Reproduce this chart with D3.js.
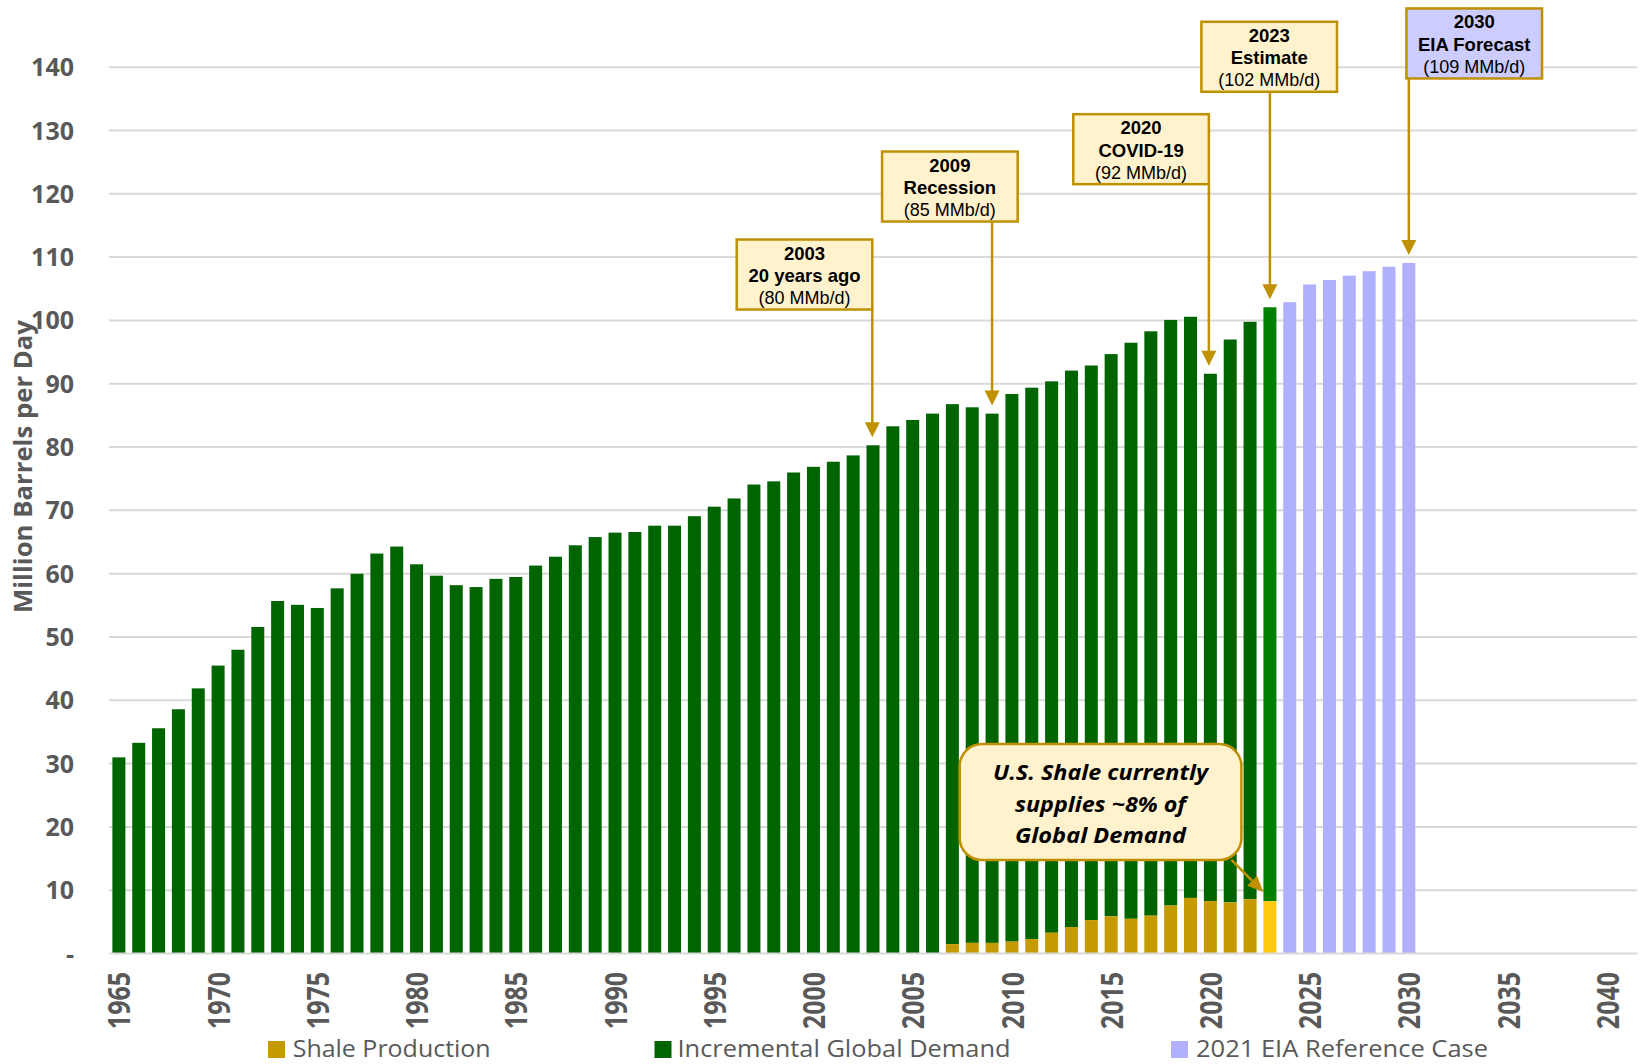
<!DOCTYPE html>
<html>
<head>
<meta charset="utf-8">
<script src="https://cdn.jsdelivr.net/npm/d3@7"></script>
<style>
  html, body { margin: 0; padding: 0; background: #ffffff; }
  svg { display: block; }
</style>
</head>
<body>
<svg id="chart" width="1642" height="1064"></svg>
<script>
// ---------------- DATA ----------------
// Categories (years on the band axis; 2041 is an unlabeled trailing slot)
const categories = ["1965","1966","1967","1968","1969","1970","1971","1972","1973","1974",
  "1975","1976","1977","1978","1979","1980","1981","1982","1983","1984",
  "1985","1986","1987","1988","1989","1990","1991","1992","1993","1994",
  "1995","1996","1997","1998","1999","2000","2001","2002","2003","2004",
  "2005","2006","2007","2008","2009","2010","2011","2012","2013","2014",
  "2015","2016","2017","2018","2019","2020","2021","2022","2023","2024",
  "2025","2026","2027","2028","2029","2030","2031","2032","2033","2034",
  "2035","2036","2037","2038","2039","2040","2041"];

const xTickLabels = ["1965","1970","1975","1980","1985","1990","1995","2000","2005",
  "2010","2015","2020","2025","2030","2035","2040"];
const yTickValues = [0,10,20,30,40,50,60,70,80,90,100,110,120,130,140];

// Total global demand (MMb/d), 1965-2023
const demandYears = categories.slice(0, 59);
const totalDemand = [30.9,33.2,35.5,38.5,41.8,45.4,47.9,51.5,55.6,55.0,
  54.5,57.6,59.9,63.1,64.2,61.4,59.6,58.1,57.8,59.1,
  59.4,61.2,62.6,64.4,65.7,66.4,66.5,67.5,67.5,69.0,
  70.5,71.8,74.0,74.5,75.9,76.8,77.6,78.6,80.2,83.2,
  84.2,85.2,86.7,86.2,85.2,88.3,89.3,90.3,92.0,92.8,
  94.6,96.4,98.2,100.0,100.5,91.5,96.9,99.7,102.0];

// U.S. shale production (MMb/d), 2007-2023
const shaleYears = ["2007","2008","2009","2010","2011","2012","2013","2014","2015",
  "2016","2017","2018","2019","2020","2021","2022","2023"];
const shaleProduction = [1.4,1.6,1.6,1.8,2.2,3.2,4.1,5.2,5.8,5.4,5.9,7.5,8.7,8.2,8.0,8.5,8.2];

// 2021 EIA reference case, 2024-2030
const eiaYears = ["2024","2025","2026","2027","2028","2029","2030"];
const eiaForecast = [102.8,105.6,106.3,107.0,107.7,108.4,109.0];

const legendLabels = ["Shale Production","Incremental Global Demand","2021 EIA Reference Case"];

const annotations = [
  {year:"2003", value:80.2, lines:["2003","20 years ago","(80 MMb/d)"], top:112.7, dx:-136.3, fill:"#FFF2CC"},
  {year:"2009", value:85.2, lines:["2009","Recession","(85 MMb/d)"], top:126.6, dx:-110, fill:"#FFF2CC"},
  {year:"2020", value:91.5, lines:["2020","COVID-19","(92 MMb/d)"], top:132.5, dx:-137.1, fill:"#FFF2CC"},
  {year:"2023", value:102.0, lines:["2023","Estimate","(102 MMb/d)"], top:147.1, dx:-68.5, fill:"#FFF2CC"},
  {year:"2030", value:109.0, lines:["2030","EIA Forecast","(109 MMb/d)"], top:149.2, dx:-2.4, fill:"#CCCCFF"}
];
const calloutLines = ["U.S. Shale currently","supplies ~8% of","Global Demand"];

// ---------------- STYLE ----------------
const C = {
  green: "#006400", green23: "#008000",
  shale: "#C49A00", shale23: "#FFC90E",
  eia: "#B0B0FF",
  grid: "#D9D9D9", text: "#595959",
  gold: "#BF9000", boxFill: "#FFF2CC"
};

const svg = d3.select("#chart");
const x = d3.scaleBand().domain(categories).range([109, 1637]).paddingInner(0.345).paddingOuter(0.17);
const y = d3.scaleLinear().domain([0, 140]).range([953, 66.7]);

// gridlines
svg.append("g")
  .attr("transform", "translate(109,0)")
  .call(d3.axisLeft(y).tickValues(yTickValues.filter(v => v > 0)).tickSize(-1528).tickFormat(""))
  .call(g => g.select(".domain").remove())
  .call(g => g.selectAll("line").attr("stroke", C.grid).attr("stroke-width", 2));

// y axis labels
svg.append("g")
  .attr("transform", "translate(109,0)")
  .call(d3.axisLeft(y).tickValues(yTickValues).tickSize(0).tickPadding(35)
    .tickFormat(v => v === 0 ? "-" : String(v)))
  .call(g => g.select(".domain").remove())
  .call(g => g.selectAll("text")
    .attr("fill", C.text)
    .style("font-family", "'Open Sans', sans-serif")
    .style("font-weight", "700")
    .style("font-size", "25px")
    .attr("dy", "0.36em"));

// y axis title
svg.append("text")
  .attr("transform", "translate(31.5,466.5) rotate(-90)")
  .attr("text-anchor", "middle")
  .attr("fill", C.text)
  .style("font-family", "'Open Sans', sans-serif")
  .style("font-weight", "700")
  .style("font-size", "25px")
  .attr("textLength", 293)
  .attr("lengthAdjust", "spacingAndGlyphs")
  .text("Million Barrels per Day");

// bars: demand split into shale + incremental
const shaleMap = new Map(shaleYears.map((yr, i) => [yr, shaleProduction[i]]));
const demandRows = demandYears.map((yr, i) => ({
  year: yr, total: totalDemand[i], shale: shaleMap.get(yr) || 0
}));

const bars = svg.append("g");
bars.selectAll("rect.inc").data(demandRows).enter().append("rect")
  .attr("class", "inc")
  .attr("x", d => x(d.year))
  .attr("width", x.bandwidth())
  .attr("y", d => y(d.total))
  .attr("height", d => y(d.shale) - y(d.total))
  .attr("fill", d => d.year === "2023" ? C.green23 : C.green);

bars.selectAll("rect.shale").data(demandRows.filter(d => d.shale > 0)).enter().append("rect")
  .attr("class", "shale")
  .attr("x", d => x(d.year))
  .attr("width", x.bandwidth())
  .attr("y", d => y(d.shale))
  .attr("height", d => y(0) - y(d.shale))
  .attr("fill", d => d.year === "2023" ? C.shale23 : C.shale);

bars.selectAll("rect.eia").data(eiaYears.map((yr, i) => ({year: yr, v: eiaForecast[i]}))).enter().append("rect")
  .attr("class", "eia")
  .attr("x", d => x(d.year))
  .attr("width", x.bandwidth())
  .attr("y", d => y(d.v))
  .attr("height", d => y(0) - y(d.v))
  .attr("fill", C.eia);

// x axis
svg.append("g")
  .attr("transform", "translate(0,953)")
  .call(d3.axisBottom(x).tickValues(xTickLabels).tickSize(0).tickSizeOuter(0))
  .call(g => g.select(".domain").attr("stroke", C.grid).attr("stroke-width", 2))
  .call(g => g.selectAll(".tick text")
    .attr("fill", C.text)
    .style("font-family", "'Open Sans', sans-serif")
    .style("font-weight", "700")
    .style("font-size", "25px")
    .attr("text-anchor", "end")
    .attr("y", 0).attr("dy", "0.36em")
    .attr("transform", "translate(1,19) rotate(-90) scale(1,1.18)"));

// annotations (boxes + leader arrows)
const ann = svg.append("g");
const BOX_W = 135.6, BOX_H = 70;
annotations.forEach(a => {
  const cx = x(a.year) + x.bandwidth() / 2;
  const bx = cx + a.dx, by = y(a.top);
  const tipY = y(a.value) - 8;
  const lineX = Math.min(Math.max(cx, bx), bx + BOX_W);
  ann.append("line")
    .attr("x1", lineX).attr("x2", lineX)
    .attr("y1", by + BOX_H).attr("y2", tipY - 14)
    .attr("stroke", C.gold).attr("stroke-width", 2.5);
  ann.append("path")
    .attr("d", `M${lineX - 7.5},${tipY - 15} L${lineX + 7.5},${tipY - 15} L${lineX},${tipY} Z`)
    .attr("fill", C.gold);
  ann.append("rect")
    .attr("x", bx).attr("y", by).attr("width", BOX_W).attr("height", BOX_H)
    .attr("fill", a.fill).attr("stroke", C.gold).attr("stroke-width", 2.5);
  const offs = [20, 42.5, 64.5];
  a.lines.forEach((t, i) => {
    ann.append("text")
      .attr("x", bx + BOX_W / 2).attr("y", by + offs[i])
      .attr("text-anchor", "middle")
      .attr("fill", "#000")
      .style("font-family", "'Liberation Sans', Arial, sans-serif")
      .style("font-weight", i < 2 ? "700" : "400")
      .style("font-size", i < 2 ? "18.5px" : "18px")
      .text(t);
  });
});

// shale callout
const x23 = x("2023");
const shale23 = shaleProduction[shaleYears.indexOf("2023")];
const cRight = x23 - 22, cLeft = cRight - 281.7;
const cTop = y(33), cBot = y(14.7);
const tip = [x23, y(shale23) - 9];
const start = [cRight - 10, cBot];
const dvx = tip[0] - start[0], dvy = tip[1] - start[1];
const len = Math.hypot(dvx, dvy), ux = dvx / len, uy = dvy / len;
const base = [tip[0] - 16 * ux, tip[1] - 16 * uy];
ann.append("line")
  .attr("x1", start[0]).attr("y1", start[1])
  .attr("x2", base[0]).attr("y2", base[1])
  .attr("stroke", C.gold).attr("stroke-width", 2.5);
ann.append("path")
  .attr("d", `M${tip[0]},${tip[1]} L${base[0] - 7 * uy},${base[1] + 7 * ux} L${base[0] + 7 * uy},${base[1] - 7 * ux} Z`)
  .attr("fill", C.gold);
ann.append("rect")
  .attr("x", cLeft).attr("y", cTop).attr("width", cRight - cLeft).attr("height", cBot - cTop)
  .attr("rx", 22).attr("ry", 22)
  .attr("fill", C.boxFill).attr("stroke", C.gold).attr("stroke-width", 2.5);
const cLens = [215, 171, 171];
calloutLines.forEach((t, i) => {
  ann.append("text")
    .attr("x", (cLeft + cRight) / 2).attr("y", cTop + 36 + i * 31.7)
    .attr("text-anchor", "middle")
    .attr("fill", "#000")
    .style("font-family", "'Open Sans', sans-serif")
    .style("font-weight", "700")
    .style("font-style", "italic")
    .style("font-size", "21px")
    .attr("textLength", cLens[i])
    .attr("lengthAdjust", "spacingAndGlyphs")
    .text(t);
});

// legend
const legendItems = [
  {label: legendLabels[0], color: C.shale, sx: 268, tx: 292.7, len: 198},
  {label: legendLabels[1], color: C.green, sx: 654.5, tx: 677.5, len: 333},
  {label: legendLabels[2], color: C.eia, sx: 1171, tx: 1196, len: 292}
];
const lg = svg.append("g");
legendItems.forEach(it => {
  lg.append("rect").attr("x", it.sx).attr("y", 1041).attr("width", 17).attr("height", 17).attr("fill", it.color);
  lg.append("text")
    .attr("x", it.tx).attr("y", 1057)
    .attr("fill", C.text)
    .style("font-family", "'Open Sans', sans-serif")
    .style("font-size", "23.5px")
    .attr("textLength", it.len)
    .attr("lengthAdjust", "spacingAndGlyphs")
    .text(it.label);
});
</script>
</body>
</html>
